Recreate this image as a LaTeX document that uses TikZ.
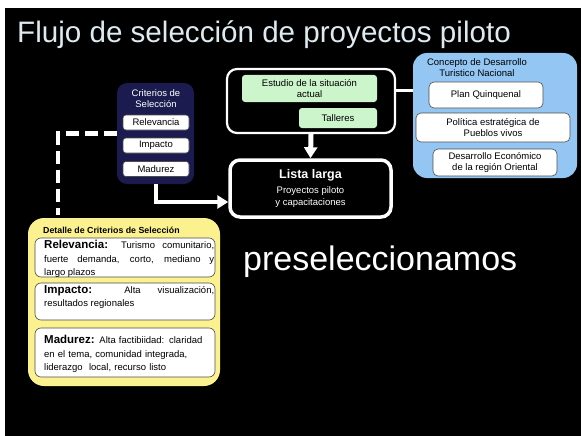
\documentclass[tikz,border=0pt]{standalone}
\usepackage{fontspec}
\setmainfont{Liberation Sans}
\usetikzlibrary{arrows.meta,calc}
\definecolor{navy}{HTML}{1B1B4F}
\definecolor{skyb}{HTML}{94C6F4}
\definecolor{ylw}{HTML}{FBF18F}
\definecolor{grn}{HTML}{CCF5CC}
\definecolor{ttl}{HTML}{DDEAF0}
\tikzset{
  small/.style={font=\fontsize{9.5}{11}\selectfont},
  whitebox/.style={draw=black!70,fill=white,rounded corners=3pt,line width=0.6pt,inner sep=0pt,small,align=center},
  greenbox/.style={fill=grn,rounded corners=3pt,inner sep=0pt,small,align=center},
  frame/.style={draw=white,rounded corners=10pt,fill=black,inner sep=0pt},
  conn/.style={draw=white,line width=4pt},
  warrow/.style={conn,-{Triangle[width=13pt,length=11pt]}},
  ytext/.style={anchor=north west,text width=170pt,inner sep=0pt,font=\fontsize{9.5}{13.5}\selectfont,align=justify},
}
\begin{document}
\begin{tikzpicture}[x=1pt,y=-1pt]
\fill[white] (0,0) rectangle (581,436);
\fill[black] (5,8) rectangle (581,436);
\useasboundingbox (0,0) rectangle (581,436);

\node[anchor=base west,inner sep=0pt,text=ttl,font=\fontsize{29.6}{32}\selectfont] (title) at (17,43) {Flujo de selección de proyectos piloto};

% Criterios
\node[fill=navy,rounded corners=10pt,minimum width=77pt,minimum height=101pt,inner sep=0pt] (crit) at (155.5,133.5) {};
\node[small,text=white,align=center,inner sep=0pt] (crittxt) at (156,98.5) {Criterios de\\Selección};
\node[whitebox,minimum width=66pt,minimum height=15pt] (rel) at (156,122.5) {Relevancia};
\node[whitebox,minimum width=66pt,minimum height=15pt] (imp) at (156,145.5) {Impacto};
\node[whitebox,minimum width=66pt,minimum height=15pt] (mad) at (156,169) {Madurez};

% top box
\node[frame,line width=2.2pt,minimum width=168pt,minimum height=64pt] (top) at (311,101) {};
\node[greenbox,minimum width=135pt,minimum height=27pt] (est) at (309.5,88.5) {Estudio de la situación\\actual};
\node[greenbox,minimum width=78pt,minimum height=20pt] (tal) at (338,118) {Talleres};

% Lista larga
\node[frame,line width=3.5pt,minimum width=161pt,minimum height=57pt,text=white,align=center] (lista) at (310.5,188.5)
 {{\fontsize{12.5}{14}\selectfont\bfseries Lista larga}\\[3pt]{\fontsize{9.5}{14.5}\selectfont Proyectos piloto}\\{\fontsize{9.5}{14.5}\selectfont y capacitaciones}};

% Blue box
\node[fill=skyb,rounded corners=14pt,minimum width=164pt,minimum height=125pt,inner sep=0pt] (blue) at (495,115.5) {};
\node[small,align=center,inner sep=0pt] (bluetxt) at (477,68) {Concepto de Desarrollo\\Turistico Nacional};
\node[whitebox,rounded corners=5pt,minimum width=114pt,minimum height=26pt] (plan) at (486,95) {Plan Quinquenal};
\node[whitebox,rounded corners=5pt,minimum width=154pt,minimum height=29pt] (pol) at (493,127.5) {Política estratégica de\\Pueblos vivos};
\node[whitebox,rounded corners=5pt,minimum width=124pt,minimum height=27pt] (des) at (495,162.5) {Desarrollo Económico\\de la región Oriental};

% Yellow box
\node[fill=ylw,rounded corners=16pt,minimum width=192pt,minimum height=168pt,inner sep=0pt] (yel) at (124,302) {};
\node[anchor=west,inner sep=0pt,font=\fontsize{8.8}{10}\selectfont\bfseries] (yeltxt) at (43,230) {Detalle de Criterios de Selección};
\node[whitebox,rounded corners=6pt,minimum width=180pt,minimum height=39pt] (y1) at (125,257.5) {};
\node[whitebox,rounded corners=6pt,minimum width=180pt,minimum height=37pt] (y2) at (125,301.5) {};
\node[whitebox,rounded corners=6pt,minimum width=180pt,minimum height=49pt] (y3) at (125,352.5) {};
\node[ytext] (y1t) at (44,240) {{\fontsize{11.5}{13.5}\selectfont\bfseries Relevancia:} Turismo comunitario,\linebreak fuerte demanda, corto, mediano y\linebreak largo plazos};
\node[ytext] (y2t) at (44,285) {{\fontsize{11.5}{13.5}\selectfont\bfseries Impacto:} Alta visualización,\linebreak resultados regionales};
\node[ytext,align=left] (y3t) at (44,335) {{\fontsize{11.5}{13.5}\selectfont\bfseries Madurez:} Alta factibiidad: claridad\\en el tema, comunidad integrada,\\liderazgo\ \ local, recurso listo};

\node[anchor=base west,inner sep=0pt,text=white,font=\fontsize{34}{36}\selectfont] (pre) at (243,270) {preseleccionamos};

% connectors
\draw[warrow,line width=5pt] (top.south) -- (lista.north);
\draw[warrow] (crit.south) |- ([yshift=-13.5pt]lista.west);
\draw[conn,line width=3pt] ([yshift=11pt]top.east) -- ([yshift=11pt]top.east -| blue.west);
\draw[conn,line width=4.5pt,dash pattern=on 13pt off 6pt,shorten >=3pt] (crit.west) -| ([xshift=-66pt]yel.north);
\end{tikzpicture}
\end{document}
